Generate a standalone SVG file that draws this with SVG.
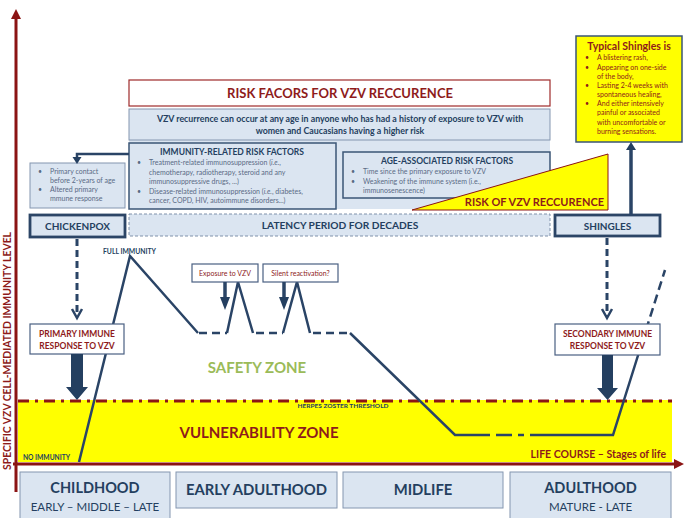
<svg xmlns="http://www.w3.org/2000/svg" width="685" height="518" viewBox="0 0 685 518">
<style>
text{font-family:Lato,"Open Sans","Liberation Sans",sans-serif;}
.b{font-weight:bold}
.c{text-anchor:middle}
.navy{fill:#243f60}
.red{fill:#8e1b1b}
.lb{fill:#dbe5f1;stroke:#8496b0;stroke-width:1}
.nb{fill:#dbe5f1;stroke:#3b5576;stroke-width:1.5}
.thick{fill:#dbe5f1;stroke:#2c4566;stroke-width:2.8}
.wb{fill:#fff;stroke:#4a6082;stroke-width:1.2}
.bul{font-size:7px;fill:#5a6a85}
.rbul{font-size:7px;fill:#8e1b1b}
.ln{fill:none;stroke:#2a4466;stroke-width:2.5;stroke-linejoin:miter}
.dl{fill:none;stroke:#2a4466;stroke-width:2.5;stroke-dasharray:8,5}
.dash3{fill:none;stroke:#2a4466;stroke-width:3;stroke-dasharray:7,4}
.ax{stroke:#8b1414;stroke-width:3;fill:none}
.hd{fill:#243f60}
</style>
<rect width="685" height="518" fill="#fff"/>

<!-- zones -->
<rect x="18" y="400" width="654" height="62" fill="#ffff00"/>
<line x1="18" y1="401" x2="672" y2="401" stroke="#8b1414" stroke-width="3" stroke-dasharray="11,6,3,6"/>
<text x="343" y="408" class="b c navy" font-size="6" textLength="91" lengthAdjust="spacingAndGlyphs">HERPES ZOSTER THRESHOLD</text>
<text x="259" y="438" class="b c red" font-size="15">VULNERABILITY ZONE</text>
<text x="23" y="460" class="b navy" font-size="6.5" textLength="47" lengthAdjust="spacingAndGlyphs">NO IMMUNITY</text>
<text x="666" y="458" class="b red" font-size="10.5" text-anchor="end">LIFE COURSE – Stages of life</text>
<text x="257" y="373" class="b c" font-size="15" fill="#9bbb59">SAFETY ZONE</text>
<text x="103" y="254" class="b navy" font-size="6.8" textLength="53" lengthAdjust="spacingAndGlyphs">FULL IMMUNITY</text>

<!-- axes -->
<g id="axes">
<line class="ax" x1="16" y1="17" x2="16" y2="492"/>
<polygon points="16,9 11,19 21,19" fill="#8b1414"/>
<line class="ax" x1="13" y1="464" x2="676" y2="464"/>
<polygon points="684,464 674,459 674,469" fill="#8b1414"/>
<text transform="translate(11,351) rotate(-90)" class="b c red" font-size="10.4">SPECIFIC VZV CELL-MEDIATED IMMUNITY LEVEL</text>
</g>

<!-- immunity curve -->
<g id="immunity-curve">
<path class="ln" d="M79,462 L130,256 L198,333"/>
<path class="dl" d="M199,333 L227,333"/>
<path class="ln" d="M227,333 L238,282 L253,333"/>
<path class="dl" d="M256,333 L283,333"/>
<path class="ln" d="M283,333 L297,282 L310,333"/>
<path class="dl" d="M313,333 L350,333"/>
<path class="ln" d="M350,333 L455,435 L490,435"/>
<path class="ln" d="M496,435 L512,435 M518,435 L524,435"/>
<path class="ln" d="M530,435 L613,435 L646,330"/>
<path class="ln" d="M646,330 L665,270" stroke-dasharray="9,5"/>
</g>

<!-- risk block -->
<g id="risk-title">
<rect x="129" y="80" width="421" height="26" fill="#fff" stroke="#9e2a2a" stroke-width="1.2"/>
<text x="340" y="98" class="b c red" font-size="13">RISK FACORS FOR VZV RECCURENCE</text>
</g>
<rect x="129" y="109" width="421" height="100" fill="#dbe5f1"/>
<g id="recurrence-info">
<rect x="129" y="109" width="421" height="31" class="lb"/>
<text x="340" y="122" class="b c navy" font-size="8.8">VZV recurrence can occur at any age in anyone who has had a history of exposure to VZV with</text>
<text x="340" y="134" class="b c navy" font-size="8.8">women and Caucasians having a higher risk</text>
</g>
<g id="immunity-factors">
<rect x="129" y="143" width="207" height="66" class="nb"/>
<text x="232" y="155" class="b c navy" font-size="8.5">IMMUNITY-RELATED RISK FACTORS</text>
<g class="bul">
<text x="137" y="165">•</text>
<text x="149" y="165">Treatment-related immunosuppression (<tspan font-style="italic">i.e.</tspan>,</text>
<text x="149" y="174.5">chemotherapy, radiotherapy, steroid and any</text>
<text x="149" y="184">immunosuppressive drugs, ...)</text>
<text x="137" y="193.5">•</text>
<text x="149" y="193.5">Disease-related immunosuppression (<tspan font-style="italic">i.e.</tspan>, diabetes,</text>
<text x="149" y="203">cancer, COPD, HIV, autoimmune disorders...)</text>
</g>
</g>
<g id="age-factors">
<rect x="343" y="152" width="207" height="46" class="nb"/>
<text x="447" y="164" class="b c navy" font-size="8.5">AGE-ASSOCIATED RISK FACTORS</text>
<g class="bul">
<text x="351" y="174">•</text>
<text x="363" y="174">Time since the primary exposure to VZV</text>
<text x="351" y="183.5">•</text>
<text x="363" y="183.5">Weakening of the immune system (i.e.,</text>
<text x="363" y="192.5">immunosenescence)</text>
</g>
</g>
<g id="risk-triangle">
<polygon points="412,210 608,154 608,210" fill="#ffff00" stroke="#8b1414" stroke-width="1"/>
<text x="604" y="206" class="b red" font-size="11" text-anchor="end">RISK OF VZV RECCURENCE</text>
</g>

<g id="primary-factors">
<rect x="30" y="163" width="95" height="45" class="lb"/>
<g class="bul">
<text x="38" y="174">•</text>
<text x="50" y="174">Primary contact</text>
<text x="50" y="183">before 2-years of age</text>
<text x="38" y="192">•</text>
<text x="50" y="192">Altered primary</text>
<text x="50" y="201">mmune response</text>
</g>
</g>
<g id="chickenpox">
<rect x="30" y="215" width="95" height="22" class="thick"/>
<text x="77.5" y="230" class="b c navy" font-size="10">CHICKENPOX</text>
</g>
<g id="latency">
<rect x="129" y="214" width="421" height="22" fill="#dbe5f1" stroke="#7f91aa" stroke-width="1" stroke-dasharray="3,2"/>
<text x="340" y="229" class="b c navy" font-size="10.2">LATENCY PERIOD FOR DECADES</text>
</g>
<g id="shingles">
<rect x="555" y="215" width="105" height="21" class="thick"/>
<text x="607.5" y="229.5" class="b c navy" font-size="10">SHINGLES</text>
</g>
<g id="typical-shingles">
<rect x="576" y="36" width="106" height="106" fill="#ffff00" stroke="#3b5576" stroke-width="1.5"/>
<text x="629" y="50" class="b c red" font-size="10.5">Typical Shingles is</text>
<g class="rbul">
<text x="585" y="60">•</text><text x="597" y="60">A blistering rash,</text>
<text x="585" y="69.5">•</text><text x="597" y="69.5">Appearing on one-side</text>
<text x="597" y="78.5">of the body,</text>
<text x="585" y="88">•</text><text x="597" y="88">Lasting 2-4 weeks with</text>
<text x="597" y="97">spontaneous healing,</text>
<text x="585" y="106">•</text><text x="597" y="106">And either intensively</text>
<text x="597" y="115">painful or associated</text>
<text x="597" y="124.5">with uncomfortable or</text>
<text x="597" y="133.5">burning sensations.</text>
</g>
</g>

<g id="exposure">
<rect x="192" y="264" width="66" height="18" class="wb"/>
<text x="225" y="276" class="c red" font-size="7">Exposure to VZV</text>
</g>
<g id="silent">
<rect x="263" y="264" width="75" height="18" class="wb"/>
<text x="300.5" y="276" class="c red" font-size="7">Silent reactivation?</text>
</g>

<g id="primary-response">
<rect x="30" y="324" width="94" height="30" class="wb"/>
<text x="77" y="337" class="b c red" font-size="8.5">PRIMARY IMMUNE</text>
<text x="77" y="349" class="b c red" font-size="8.5">RESPONSE TO VZV</text>
</g>
<g id="secondary-response">
<rect x="555" y="324" width="105" height="31" class="wb"/>
<text x="607.5" y="337" class="b c red" font-size="8.5">SECONDARY IMMUNE</text>
<text x="607.5" y="349" class="b c red" font-size="8.5">RESPONSE TO VZV</text>
</g>

<!-- connectors -->
<g id="connectors">
<path class="ln" d="M129,154 H77 V158"/>
<polygon class="hd" points="72.5,157 81.5,157 77,164"/>
<line class="dash3" x1="77" y1="239" x2="77" y2="316"/>
<polyline points="72,309 77,318 82,309" fill="none" stroke="#2a4466" stroke-width="2.5"/>
<line class="dash3" x1="607" y1="238" x2="607" y2="316"/>
<polyline points="602,309 607,318 612,309" fill="none" stroke="#2a4466" stroke-width="2.5"/>
<line x1="631" y1="215" x2="631" y2="149" stroke="#2a4466" stroke-width="3.5"/>
<polygon class="hd" points="626,150 636,150 631,142"/>
<line x1="225" y1="282" x2="225" y2="298" stroke="#2a4466" stroke-width="3.5"/>
<polygon class="hd" points="220,297 230,297 225,310"/>
<line x1="284" y1="282" x2="284" y2="298" stroke="#2a4466" stroke-width="3.5"/>
<polygon class="hd" points="279,297 289,297 284,310"/>
<polygon class="hd" points="71,354 83,354 83,387 88,387 77,400 66,387 71,387"/>
<polygon class="hd" points="602,355 613,355 613,388 618,388 607.5,400 597,388 602,388"/>
</g>

<!-- life stages -->
<g id="childhood">
<rect x="20" y="472" width="150" height="50" class="lb" stroke-width="1.5"/>
<text x="95" y="493" class="b c navy" font-size="14.5">CHILDHOOD</text>
<text x="95" y="511" class="c navy" font-size="11.5">EARLY – MIDDLE – LATE</text>
</g>
<g id="early-adulthood">
<rect x="176" y="472" width="161" height="36" class="lb" stroke-width="1.5"/>
<text x="256.5" y="495" class="b c navy" font-size="14.8">EARLY ADULTHOOD</text>
</g>
<g id="midlife">
<rect x="343" y="472" width="160" height="36" class="lb" stroke-width="1.5"/>
<text x="423" y="495" class="b c navy" font-size="14.8">MIDLIFE</text>
</g>
<g id="adulthood">
<rect x="510" y="472" width="161" height="50" class="lb" stroke-width="1.5"/>
<text x="590.5" y="493" class="b c navy" font-size="14.5">ADULTHOOD</text>
<text x="590.5" y="511" class="c navy" font-size="11.5">MATURE - LATE</text>
</g>
</svg>
